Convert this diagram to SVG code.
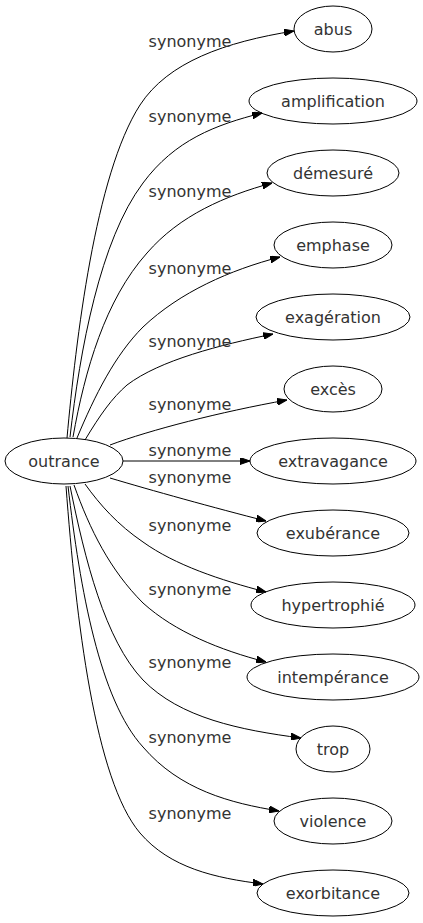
<svg xmlns="http://www.w3.org/2000/svg" width="423" height="923" viewBox="0 0 423 923">
<style>
.node ellipse{fill:none;stroke:#000;stroke-width:1}
.node text{font-family:"DejaVu Sans",sans-serif;font-size:16px;fill:#333;text-anchor:middle}
.edges path{fill:none;stroke:#000;stroke-width:1;marker-end:url(#arr)}
.edges path.plain{marker-end:url(#arr)}
.edges text{font-family:"DejaVu Sans",sans-serif;font-size:16px;fill:#333;text-anchor:middle}
</style>
<defs>
<marker id="arr" viewBox="0 0 10 7" refX="10" refY="3.5" markerWidth="10" markerHeight="7" markerUnits="userSpaceOnUse" orient="auto">
<path d="M0,0 L10,3.5 L0,7 z" fill="#000" stroke="#000" stroke-width="1"/>
</marker>
</defs>
<rect width="423" height="923" fill="#fff"/>
<g class="edges">
<path d="M67,438 C76,340 95,175 140,105 C168,62 225,42 294,31"/>
<text x="190" y="47">synonyme</text>
<path d="M70,437 C80,350 100,240 143,183 C175,140 215,125 262,113"/>
<text x="190" y="122">synonyme</text>
<path d="M73,437 C85,370 105,300 147,253 C180,215 225,196 272,183"/>
<text x="190" y="197">synonyme</text>
<path d="M77,438 C95,395 115,355 143,327 C180,292 230,270 280,257"/>
<text x="190" y="274">synonyme</text>
<path d="M85,440 C100,415 112,398 127,385 C160,360 220,345 273,334"/>
<text x="190" y="347">synonyme</text>
<path d="M110,445 C150,430 220,412 287,400"/>
<text x="190" y="410">synonyme</text>
<path d="M123,461 L250,461"/>
<text x="190" y="456">synonyme</text>
<path d="M110,478 C150,490 215,508 266,521"/>
<text x="190" y="483">synonyme</text>
<path d="M85,484 C100,505 118,525 143,542 C175,565 220,580 266,592"/>
<text x="190" y="531">synonyme</text>
<path d="M74,485 C90,530 110,570 143,603 C175,632 220,650 266,662"/>
<text x="190" y="595">synonyme</text>
<path d="M70,486 C85,560 105,640 143,680 C180,718 240,730 301,738"/>
<text x="190" y="668">synonyme</text>
<path d="M68,486 C80,590 100,700 143,747 C180,790 230,803 279,811"/>
<text x="190" y="743">synonyme</text>
<path d="M66,486 C76,620 95,780 140,833 C170,868 215,878 263,884"/>
<text x="190" y="819">synonyme</text>
</g>
<g id="node-outrance" class="node"><ellipse cx="64" cy="461" rx="59" ry="23"/><text x="64" y="467">outrance</text></g>
<g id="node-abus" class="node"><ellipse cx="333" cy="29" rx="39" ry="23"/><text x="333" y="35">abus</text></g>
<g id="node-amplification" class="node"><ellipse cx="333" cy="101" rx="84" ry="23"/><text x="333" y="107">amplification</text></g>
<g id="node-demesure" class="node"><ellipse cx="333" cy="173" rx="66" ry="23"/><text x="333" y="179">démesuré</text></g>
<g id="node-emphase" class="node"><ellipse cx="333" cy="245" rx="59" ry="23"/><text x="333" y="251">emphase</text></g>
<g id="node-exageration" class="node"><ellipse cx="333" cy="317" rx="77" ry="23"/><text x="333" y="323">exagération</text></g>
<g id="node-exces" class="node"><ellipse cx="333" cy="389" rx="49" ry="23"/><text x="333" y="395">excès</text></g>
<g id="node-extravagance" class="node"><ellipse cx="333" cy="461" rx="83" ry="23"/><text x="333" y="467">extravagance</text></g>
<g id="node-exuberance" class="node"><ellipse cx="333" cy="533" rx="76" ry="23"/><text x="333" y="539">exubérance</text></g>
<g id="node-hypertrophie" class="node"><ellipse cx="333" cy="605" rx="82" ry="23"/><text x="333" y="611">hypertrophié</text></g>
<g id="node-intemperance" class="node"><ellipse cx="333" cy="677" rx="86" ry="23"/><text x="333" y="683">intempérance</text></g>
<g id="node-trop" class="node"><ellipse cx="333" cy="749" rx="37" ry="23"/><text x="333" y="755">trop</text></g>
<g id="node-violence" class="node"><ellipse cx="333" cy="821" rx="59" ry="23"/><text x="333" y="827">violence</text></g>
<g id="node-exorbitance" class="node"><ellipse cx="333" cy="893" rx="76" ry="23"/><text x="333" y="899">exorbitance</text></g>
</svg>
